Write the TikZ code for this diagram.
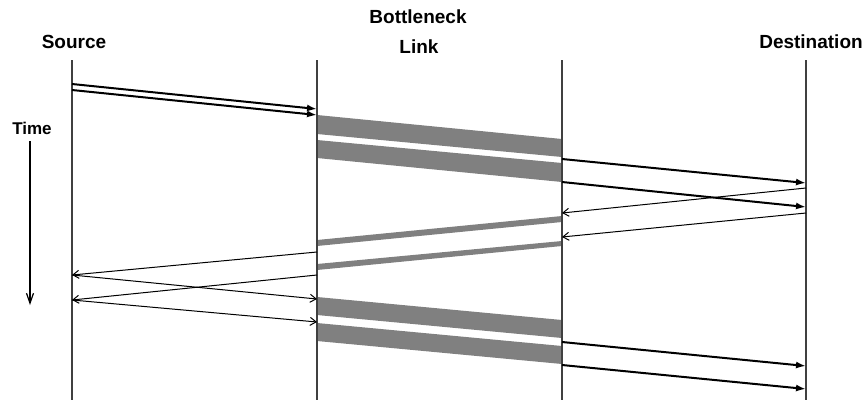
\documentclass[tikz,border=0pt]{standalone}
\usepackage{fontspec}
\setmainfont{Liberation Sans}
\usetikzlibrary{arrows.meta}

\tikzset{
  lbl/.style={font=\bfseries\fontsize{9.5}{11}\selectfont, anchor=base, inner sep=0pt},
  timeline/.style={draw=black!75, line width=0.6pt},
  data/.style={line width=1pt, -{Latex[length=5pt,width=3.5pt]}},
  ack/.style={line width=0.5pt, -{Straight Barb[length=3pt,width=4pt]}},
  pkt/.style={fill=black!50, draw=none},
}

\begin{document}
\begin{tikzpicture}[x=0.5pt,y=-0.5pt]
\useasboundingbox (0,0) rectangle (866,402);
%labels
\node[lbl] (src) at (74,48) {Source};
\node[lbl] (bn) at (418,23) {Bottleneck};
\node[lbl] (link) at (419,53) {Link};
\node[lbl] (dst) at (811,48) {Destination};
\node[lbl,font=\bfseries\fontsize{8.5}{10}\selectfont] (time) at (32,134) {Time};
%time axis
\coordinate (ttop) at (30,141); \coordinate (tbot) at (30,305);
\draw[line width=0.6pt,-{Straight Barb[length=5pt,width=3.5pt]}] (ttop) -- (tbot);
%packets queued in the bottleneck
\fill[pkt] (317,115) -- (562,139) -- (562,157) -- (317,134) -- cycle;
\fill[pkt] (317,140) -- (562,163) -- (562,182) -- (317,158) -- cycle;
%acks through the bottleneck
\fill[pkt] (317,240) -- (562,216) -- (562,222) -- (317,246) -- cycle;
\fill[pkt] (317,264) -- (562,241) -- (562,246) -- (317,270) -- cycle;
%second round of packets
\fill[pkt] (317,297) -- (562,320) -- (562,338) -- (317,315) -- cycle;
\fill[pkt] (317,323) -- (562,346) -- (562,364) -- (317,341) -- cycle;
%time lines
\draw[timeline] (72,60) -- (72,400);
\draw[timeline] (317,60) -- (317,400);
\draw[timeline] (562,60) -- (562,400);
\draw[timeline] (806,60) -- (806,400);
%points on the source line
\coordinate (sa) at (72,84); \coordinate (sb) at (72,90);
\coordinate (sc) at (72,275); \coordinate (sd) at (72,300);
%points on the bottleneck entry
\coordinate (la) at (317,109); \coordinate (lb) at (317,115);
\coordinate (lc) at (317,252); \coordinate (ld) at (317,275);
\coordinate (le) at (317,299); \coordinate (lf) at (317,322);
%points on the bottleneck exit
\coordinate (ra) at (562,159); \coordinate (rb) at (562,182);
\coordinate (rc) at (562,213); \coordinate (rd) at (562,237);
\coordinate (re) at (562,342); \coordinate (rf) at (562,365);
%points on the destination line
\coordinate (da) at (806,183); \coordinate (db) at (806,207);
\coordinate (dc) at (806,188); \coordinate (dd) at (806,213);
\coordinate (de) at (806,366); \coordinate (df) at (806,389);
%first window
\draw[data] (sa) -- (la);
\draw[data] (sb) -- (lb);
\draw[data] (ra) -- (da);
\draw[data] (rb) -- (db);
%acks back to the source
\draw[ack] (dc) -- (rc);
\draw[ack] (dd) -- (rd);
\draw[ack] (lc) -- (sc);
\draw[ack] (ld) -- (sd);
%next window
\draw[ack] (sc) -- (le);
\draw[ack] (sd) -- (lf);
\draw[data] (re) -- (de);
\draw[data] (rf) -- (df);
\end{tikzpicture}
\end{document}
